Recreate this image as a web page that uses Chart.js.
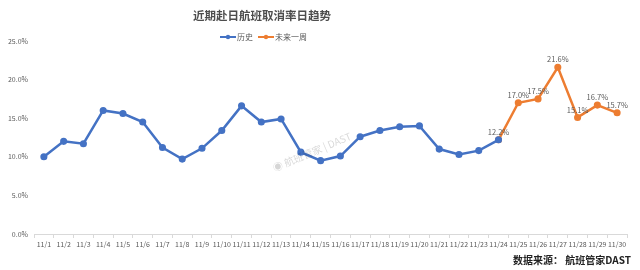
<!DOCTYPE html>
<html>
<head>
<meta charset="utf-8">
<script src="https://cdn.jsdelivr.net/npm/chart.js@4"></script>
<style>
  html, body { margin: 0; padding: 0; background: #fff; }
  #wrap { width: 640px; height: 270px; position: relative; }
</style>
</head>
<body>
<div id="wrap"><canvas id="myChart"></canvas></div>
<script>
const days = ['11/1','11/2','11/3','11/4','11/5','11/6','11/7','11/8','11/9','11/10',
  '11/11','11/12','11/13','11/14','11/15','11/16','11/17','11/18','11/19','11/20',
  '11/21','11/22','11/23','11/24','11/25','11/26','11/27','11/28','11/29','11/30'];
const history = [10.0, 12.0, 11.7, 16.0, 15.6, 14.5, 11.2, 9.7, 11.1, 13.4,
  16.6, 14.5, 14.9, 10.6, 9.5, 10.1, 12.6, 13.4, 13.9, 14.0,
  11.0, 10.3, 10.8, 12.2, null, null, null, null, null, null];
const nextWeek = [null, null, null, null, null, null, null, null, null, null,
  null, null, null, null, null, null, null, null, null, null,
  null, null, null, 12.2, 17.0, 17.5, 21.6, 15.1, 16.7, 15.7];
const yTicks = [0, 5, 10, 15, 20, 25];

const blue = '#4472C4';
const orange = '#ED7D31';
const grey = '#595959';
const font = '"Noto Sans CJK SC", "Noto Sans", sans-serif';

const extras = {
  id: 'extras',
  afterDraw(chart) {
    const c = chart.ctx;
    c.save();
    // title
    c.fillStyle = '#4d4d4d';
    c.font = 'bold 11.5px ' + font;
    c.textAlign = 'center';
    c.textBaseline = 'middle';
    c.fillText('近期赴日航班取消率日趋势', 262, 16);

    // legend
    const items = [['历史', blue, 220], ['未来一周', orange, 258]];
    c.font = '8px ' + font;
    c.textAlign = 'left';
    items.forEach(([txt, col, x]) => {
      c.strokeStyle = col;
      c.fillStyle = col;
      c.lineWidth = 2;
      c.beginPath();
      c.moveTo(x, 37);
      c.lineTo(x + 16, 37);
      c.stroke();
      c.beginPath();
      c.arc(x + 8, 37, 2.2, 0, Math.PI * 2);
      c.fill();
      c.fillStyle = grey;
      c.fillText(txt, x + 17, 37);
    });

    // data labels for future week
    const meta = chart.getDatasetMeta(1);
    c.font = '7.5px ' + font;
    c.fillStyle = grey;
    c.textAlign = 'center';
    c.textBaseline = 'bottom';
    meta.data.forEach((pt, i) => {
      const v = nextWeek[i];
      if (v === null) return;
      c.fillText(v.toFixed(1) + '%', pt.x, pt.y - 4);
    });

    // watermark
    c.translate(312, 152);
    c.rotate(-23 * Math.PI / 180);
    c.fillStyle = 'rgba(0,0,0,0.16)';
    c.font = '10px ' + font;
    c.textAlign = 'center';
    c.textBaseline = 'middle';
    c.fillText('◉ 航班管家 | DAST', 0, 0);
    c.setTransform(1, 0, 0, 1, 0, 0);

    // source
    c.fillStyle = '#222';
    c.font = 'bold 10px ' + font;
    c.textAlign = 'right';
    c.textBaseline = 'middle';
    c.fillText('数据来源： 航班管家DAST', 631, 260);
    c.restore();
  }
};

const ctx = document.getElementById('myChart');
new Chart(ctx, {
  type: 'line',
  data: {
    labels: days,
    datasets: [{
      label: '历史',
      data: history,
      borderColor: blue,
      backgroundColor: blue,
      borderWidth: 2.5,
      pointRadius: 2.3,
      pointHoverRadius: 3,
      tension: 0
    }, {
      label: '未来一周',
      data: nextWeek,
      borderColor: orange,
      backgroundColor: orange,
      borderWidth: 2.5,
      pointRadius: 2.3,
      pointHoverRadius: 3,
      tension: 0
    }]
  },
  options: {
    responsive: true,
    maintainAspectRatio: false,
    animation: false,
    layout: { padding: { top: 41, right: 13, left: 0, bottom: 0 } },
    plugins: {
      legend: { display: false },
      title: { display: false },
      tooltip: { enabled: false }
    },
    scales: {
      x: {
        offset: true,
        afterFit: s => { s.height = 36; },
        grid: {
          display: true,
          drawOnChartArea: false,
          drawTicks: true,
          tickLength: 4,
          color: '#d9d9d9',
          offset: true
        },
        border: { color: '#d9d9d9' },
        ticks: {
          color: grey,
          font: { family: font, size: 7 },
          maxRotation: 0,
          autoSkip: false,
          padding: 2
        }
      },
      y: {
        min: 0,
        max: 25,
        afterFit: s => { s.width = 34; },
        afterBuildTicks: s => { s.ticks = yTicks.map(v => ({ value: v })); },
        grid: { display: false, drawTicks: false },
        border: { display: false },
        ticks: {
          color: grey,
          font: { family: font, size: 7 },
          padding: 6,
          callback: v => v.toFixed(1) + '%'
        }
      }
    }
  },
  plugins: [extras]
});
</script>
</body>
</html>
